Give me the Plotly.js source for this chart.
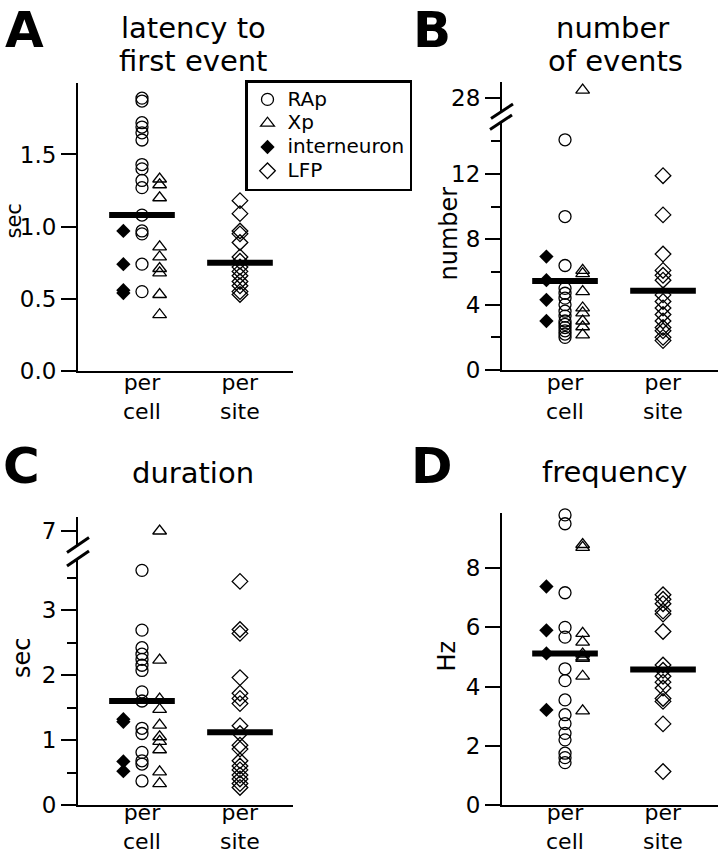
<!DOCTYPE html>
<html><head><meta charset="utf-8">
<script src="https://cdn.plot.ly/plotly-3.0.1.min.js"></script>
<style>html,body{margin:0;padding:0;background:#fff;} #chart{width:719px;height:853px;}</style>
</head><body><div id="chart"></div>
<script>
// ---------- data ----------
const categories = ["per cell", "per site"];
const catLine1 = ["per", "per"];
const catLine2 = ["cell", "site"];
const groupNames = ["RAp", "Xp", "interneuron", "LFP"];

// A: latency to first event (sec)
const latency_RAp = [1.89, 1.87, 1.72, 1.69, 1.65, 1.60, 1.43, 1.40, 1.32, 1.27, 1.08, 0.97, 0.95, 0.74, 0.55];
const latency_Xp = [1.33, 1.29, 1.20, 0.86, 0.79, 0.71, 0.68, 0.53, 0.39];
const latency_interneuron = [0.97, 0.74, 0.56, 0.54];
const latency_LFP = [1.18, 1.09, 0.97, 0.95, 0.89, 0.79, 0.76, 0.72, 0.69, 0.66, 0.62, 0.59, 0.55, 0.53];
const latency_mean = [1.08, 0.75];

// B: number of events
const number_RAp = [14.1, 9.4, 6.4, 5.0, 4.7, 4.4, 4.0, 3.6, 3.3, 3.0, 2.8, 2.6, 2.4, 2.2, 2.0];
const number_Xp = [28.5, 6.1, 5.9, 4.8, 3.8, 3.5, 3.0, 2.65, 2.15];
const number_interneuron = [6.95, 5.5, 4.3, 3.0];
const number_LFP = [11.9, 9.5, 7.1, 6.1, 5.8, 5.5, 4.6, 4.2, 3.8, 3.4, 3.0, 2.6, 2.4, 2.0, 1.8];
const number_mean = [5.45, 4.86];

// C: duration (sec)
const duration_RAp = [3.61, 2.69, 2.42, 2.32, 2.24, 2.15, 2.07, 1.74, 1.60, 1.18, 1.10, 0.81, 0.68, 0.63, 0.37];
const duration_Xp = [7.0, 2.23, 1.63, 1.47, 1.23, 1.05, 0.98, 0.85, 0.51, 0.33];
const duration_interneuron = [1.32, 1.28, 0.67, 0.52];
const duration_LFP = [3.44, 2.70, 2.64, 1.96, 1.72, 1.64, 1.56, 1.22, 1.10, 0.92, 0.86, 0.68, 0.60, 0.54, 0.46, 0.40, 0.33, 0.27];
const duration_mean = [1.60, 1.12];

// D: frequency (Hz)
const frequency_RAp = [9.8, 9.5, 7.17, 6.0, 5.67, 4.6, 4.2, 3.55, 3.05, 2.75, 2.42, 2.2, 1.75, 1.6, 1.43];
const frequency_Xp = [8.8, 8.7, 5.8, 5.5, 5.1, 5.0, 4.95, 4.35, 3.18];
const frequency_interneuron = [7.38, 5.9, 5.12, 3.21];
const frequency_LFP = [7.1, 6.95, 6.8, 6.55, 6.45, 5.86, 4.73, 4.55, 4.35, 4.15, 3.95, 3.6, 3.5, 2.74, 1.13];
const frequency_mean = [5.12, 4.58];

const panelLetters = ["A", "B", "C", "D"];
const panelTitles = [["latency to", "first event"], ["number", "of events"], ["duration"], ["frequency"]];
const yTitles = ["sec", "number", "sec", "Hz"];

// ---------- layout helpers ----------
const W = 719, H = 853;
const px = v => v / W;
const py = v => 1 - v / H;
const FONT = "DejaVu Sans";
const groupCat = {RAp: 0, Xp: 0, interneuron: 0, LFP: 1};
const groupOff = {RAp: 0, Xp: 0.18, interneuron: -0.19, LFP: 0};
const groupMarker = {
  RAp: {symbol: "circle-open", size: 12, color: "black", line: {width: 1.3, color: "black"}},
  Xp: {symbol: "triangle-up-open", size: 12, color: "black", line: {width: 1.3, color: "black"}},
  interneuron: {symbol: "diamond", size: 11, color: "black", line: {width: 0, color: "black"}},
  LFP: {symbol: "diamond-open", size: 12, color: "black", line: {width: 1.3, color: "black"}}
};

const panels = [
  {x: "x", y: "y", yUp: null, brk: null, data: [latency_RAp, latency_Xp, latency_interneuron, latency_LFP], mean: latency_mean},
  {x: "x2", y: "y2", yUp: "y5", brk: 20, data: [number_RAp, number_Xp, number_interneuron, number_LFP], mean: number_mean},
  {x: "x3", y: "y3", yUp: "y6", brk: 5, data: [duration_RAp, duration_Xp, duration_interneuron, duration_LFP], mean: duration_mean},
  {x: "x4", y: "y4", yUp: null, brk: null, data: [frequency_RAp, frequency_Xp, frequency_interneuron, frequency_LFP], mean: frequency_mean}
];

const traces = [];
panels.forEach((p, pi) => {
  p.mean.forEach((m, ci) => {
    traces.push({type: "scatter", mode: "lines", xaxis: p.x, yaxis: p.y,
      x: [ci + 1 - 0.335, ci + 1 + 0.335], y: [m, m],
      line: {color: "black", width: 6}, showlegend: false, hoverinfo: "skip", cliponaxis: false});
  });
  groupNames.forEach((g, gi) => {
    const vals = p.data[gi];
    const low = p.brk === null ? vals : vals.filter(v => v < p.brk);
    const high = p.brk === null ? [] : vals.filter(v => v >= p.brk);
    const xpos = groupCat[g] + 1 + groupOff[g];
    traces.push({type: "scatter", mode: "markers",
      name: '<span style="font-size:20px">' + g + '</span>',
      xaxis: p.x, yaxis: p.y,
      x: low.map(() => xpos), y: low, marker: groupMarker[g],
      showlegend: pi === 0, legendgroup: g, cliponaxis: false});
    if (high.length) {
      traces.push({type: "scatter", mode: "markers", name: g, xaxis: p.x, yaxis: p.yUp,
        x: high.map(() => xpos), y: high, marker: groupMarker[g],
        showlegend: false, legendgroup: g, cliponaxis: false});
    }
  });
});

const yBase = {
  showline: true, linecolor: "black", linewidth: 2, ticks: "outside", ticklen: 15, tickwidth: 2,
  tickcolor: "black", showgrid: false, zeroline: false, fixedrange: true,
  tickfont: {family: FONT, size: 23, color: "black"}
};
const xBase = {
  showline: true, linecolor: "black", linewidth: 2, ticks: "", showticklabels: false,
  showgrid: false, zeroline: false, fixedrange: true
};
const minorStyle = d => ({dtick: d, tick0: 0, ticks: "outside", ticklen: 9, tickwidth: 2, tickcolor: "black", showgrid: false});

const layout = {
  width: W, height: H, margin: {l: 0, r: 0, t: 0, b: 0},
  paper_bgcolor: "white", plot_bgcolor: "white",
  font: {family: FONT, color: "black"},
  showlegend: true,
  legend: {x: px(245), y: py(80), xanchor: "left", yanchor: "top", bordercolor: "black", borderwidth: 2.5,
    bgcolor: "white", font: {family: FONT, size: 16, color: "black"}, traceorder: "normal", tracegroupgap: 0},
  xaxis: Object.assign({}, xBase, {domain: [px(78), px(293)], range: [0.347, 2.541], anchor: "y"}),
  yaxis: Object.assign({}, yBase, {domain: [py(371), py(83)], range: [0, 1.995], anchor: "x", tickmode: "linear", tick0: 0, dtick: 0.5, tickformat: ".1f"}),
  xaxis2: Object.assign({}, xBase, {domain: [px(502), px(718)], range: [0.357, 2.561], anchor: "y2"}),
  yaxis2: Object.assign({}, yBase, {domain: [py(370), py(122)], range: [0, 15.19], anchor: "x2", tickmode: "linear", tick0: 0, dtick: 4, minor: minorStyle(2)}),
  yaxis5: Object.assign({}, yBase, {domain: [py(111), py(82)], range: [27.22, 29.0], anchor: "x2", tickmode: "array", tickvals: [28]}),
  xaxis3: Object.assign({}, xBase, {domain: [px(78), px(293)], range: [0.347, 2.541], anchor: "y3"}),
  yaxis3: Object.assign({}, yBase, {domain: [py(805), py(558)], range: [0, 3.8], anchor: "x3", tickmode: "linear", tick0: 0, dtick: 1, minor: minorStyle(0.5)}),
  yaxis6: Object.assign({}, yBase, {domain: [py(545), py(517)], range: [6.785, 7.215], anchor: "x3", tickmode: "array", tickvals: [7]}),
  xaxis4: Object.assign({}, xBase, {domain: [px(502), px(718)], range: [0.357, 2.561], anchor: "y4"}),
  yaxis4: Object.assign({}, yBase, {domain: [py(805), py(513.4)], range: [0, 9.85], anchor: "x4", tickmode: "linear", tick0: 0, dtick: 2}),
  annotations: [],
  shapes: []
};

const ann = (text, x, y, size, opts) => Object.assign({
  text: text, xref: "paper", yref: "paper", x: x, y: y, xanchor: "center", yanchor: "middle",
  showarrow: false, borderpad: 0, font: {family: FONT, size: size, color: "black"}
}, opts || {});

// panel letters
layout.annotations.push(ann("<b>" + panelLetters[0] + "</b>", px(24), py(0), 50, {yanchor: "top"}));
layout.annotations.push(ann("<b>" + panelLetters[1] + "</b>", px(432), py(0), 50, {yanchor: "top"}));
layout.annotations.push(ann("<b>" + panelLetters[2] + "</b>", px(21), py(465.5), 50));
layout.annotations.push(ann("<b>" + panelLetters[3] + "</b>", px(432), py(465.5), 50));

// titles
const titlePos = [[[193.5, 28.3], [192.5, 61]], [[612, 28], [615, 61]], [[192.5, 472.7]], [[614, 471.7]]];
panelTitles.forEach((lines, i) => lines.forEach((t, k) => layout.annotations.push(
  ann(t, px(titlePos[i][k][0]), py(titlePos[i][k][1]), 29))));

// y titles
const yTitleSpec = [[13, 221.5, 21], [448, 233.5, 24], [22, 658, 24], [446, 656.5, 24]];
yTitles.forEach((t, i) => layout.annotations.push(
  ann(t, px(yTitleSpec[i][0]), py(yTitleSpec[i][1]), yTitleSpec[i][2], {textangle: -90})));

// category labels
const catMid = [396.5, 396.5, 826.5, 826.5];
panels.forEach((p, i) => categories.forEach((c, ci) => {
  layout.annotations.push(ann(catLine1[ci] + "<br>" + catLine2[ci], ci + 1, py(catMid[i]), 22, {xref: p.x}));
}));

// axis break marks
const brkLine = (x0, y0, x1, y1) => ({type: "line", xref: "paper", yref: "paper",
  x0: px(x0), y0: py(y0), x1: px(x1), y1: py(y1), line: {color: "black", width: 3}});
layout.shapes.push(brkLine(491, 118.5, 513, 104), brkLine(490, 129.5, 512, 115));
layout.shapes.push(brkLine(67, 552.5, 89, 537.5), brkLine(67, 566, 89, 551));

Plotly.newPlot("chart", traces, layout, {displayModeBar: false, staticPlot: true});
</script>
</body></html>
